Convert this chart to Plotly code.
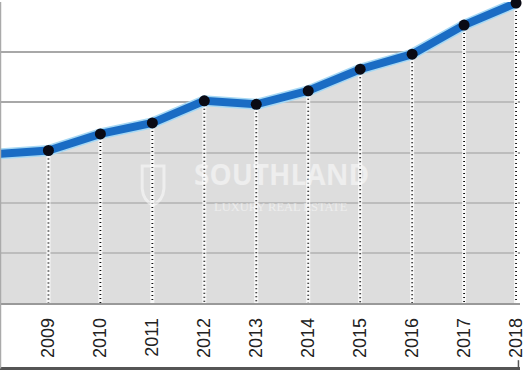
import plotly.graph_objects as go

years = [2008, 2009, 2010, 2011, 2012, 2013, 2014, 2015, 2016, 2017, 2018]
values = [2.97, 3.04, 3.37, 3.59, 4.03, 3.96, 4.23, 4.66, 4.96, 5.54, 5.98]
tick_years = [2009, 2010, 2011, 2012, 2013, 2014, 2015, 2016, 2017, 2018]
tick_labels = [str(y) for y in tick_years]

fig = go.Figure()

# filled area
fig.add_trace(go.Scatter(
    x=years, y=values, mode="lines", line=dict(width=0, color="rgba(0,0,0,0)"),
    fill="tozeroy", fillcolor="rgba(200,200,200,0.62)", hoverinfo="skip", cliponaxis=False,
))

# vertical dotted drop lines
dx, dy = [], []
for yr, v in zip(years[1:], values[1:]):
    dx += [yr, yr, None]
    dy += [v, 0, None]
fig.add_trace(go.Scatter(
    x=dx, y=dy, mode="lines", line=dict(color="rgba(255,255,255,0.8)", width=4),
    hoverinfo="skip",
))
fig.add_trace(go.Scatter(
    x=dx, y=dy, mode="lines", line=dict(color="#111111", width=1.8, dash="1px,3px"),
    hoverinfo="skip",
))

# halo + main line
fig.add_trace(go.Scatter(
    x=years, y=values, mode="lines", line=dict(color="#a6d8f4", width=11),
    hoverinfo="skip", cliponaxis=False,
))
fig.add_trace(go.Scatter(
    x=years, y=values, mode="lines+markers",
    line=dict(color="#1a6cc4", width=8),
    marker=dict(color="#0a0a14", size=11),
    cliponaxis=False,
))

# watermark
wm = "rgba(255,255,255,0.5)"
fig.add_annotation(x=0.54, y=0.43, xref="paper", yref="paper", text="<b>SOUTHLAND</b>",
                   showarrow=False, font=dict(family="Open Sans, Arial", size=28, color=wm))
fig.add_annotation(x=0.54, y=0.29, xref="paper", yref="paper", text="LUXURY REAL ESTATE",
                   showarrow=False, font=dict(family="Liberation Serif, serif", size=12.5, color=wm))
fig.add_shape(type="path", xref="paper", yref="paper",
              path="M 0.272 0.455 L 0.314 0.455 L 0.314 0.38 Q 0.312 0.34 0.293 0.325 Q 0.274 0.34 0.272 0.38 Z",
              line=dict(color=wm, width=3), fillcolor="rgba(0,0,0,0)")

# frame decorations
fig.add_shape(type="line", xref="paper", yref="paper", x0=-0.002, x1=1.0, y0=-0.218, y1=-0.218,
              line=dict(color="#555555", width=3))
fig.add_shape(type="line", xref="paper", yref="paper", x0=0.997, x1=0.997, y0=-0.218, y1=-0.19,
              line=dict(color="#555555", width=1.5))
fig.add_shape(type="line", xref="paper", yref="paper", x0=-0.001, x1=-0.001, y0=-0.218, y1=1,
              line=dict(color="#aaaaaa", width=1.5))

fig.update_layout(
    width=526, height=371,
    margin=dict(l=1, r=0, t=2, b=68),
    paper_bgcolor="white", plot_bgcolor="white",
    showlegend=False,
    xaxis=dict(
        range=[2008.087, 2018.076], tickmode="array", tickvals=tick_years, ticktext=tick_labels,
        tickangle=-90, tickfont=dict(family="Liberation Sans, Arial", size=18, color="#222222"),
        ticklabeloverflow="allow",
        showgrid=False, zeroline=False, showline=True, linecolor="#999999", linewidth=1.5,
        ticks="outside", ticklen=6, tickcolor="rgba(0,0,0,0)",
    ),
    yaxis=dict(
        range=[0, 6], dtick=1, showticklabels=False, showgrid=True, gridcolor="#a8a8a8",
        gridwidth=1.5, zeroline=False, showline=True, linecolor="#aaaaaa", linewidth=1.5,
    ),
)

fig.write_html("out.html")
